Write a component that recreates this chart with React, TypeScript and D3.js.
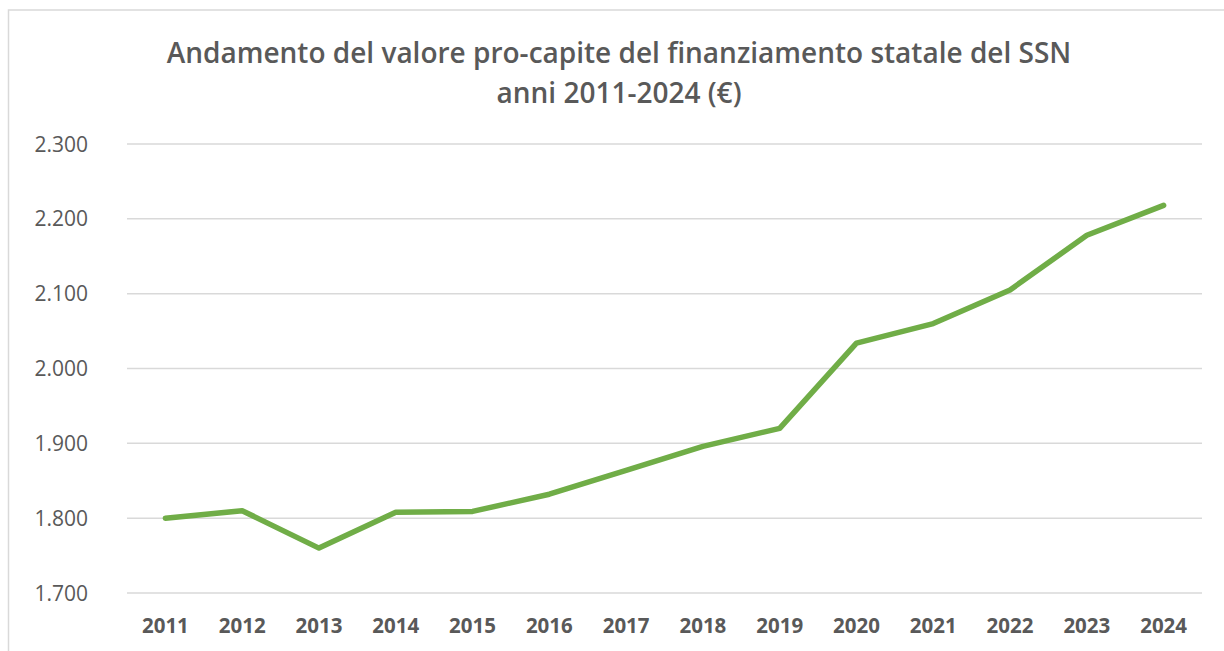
import React from "react";
import * as d3 from "d3";

const years = ["2011","2012","2013","2014","2015","2016","2017","2018","2019","2020","2021","2022","2023","2024"];
const values = [1800,1810,1760,1808,1809,1832,1864,1896,1920,2034,2060,2105,2178,2218];
const yTicks = [1700,1800,1900,2000,2100,2200,2300];
const titleLines = ["Andamento del valore pro-capite del finanziamento statale del SSN", "anni 2011-2024 (€)"];

const W = 1224, H = 651;
const plot = { left: 127, right: 1202, top: 144, bottom: 593 };

export default function App() {
  const x = d3.scaleBand<string>().domain(years).range([plot.left, plot.right]);
  const y = d3.scaleLinear().domain([1700, 2300]).range([plot.bottom, plot.top]);
  const line = d3.line<number>()
    .x((_, i) => (x(years[i]) as number) + x.bandwidth() / 2)
    .y(d => y(d));
  const fmt = (v: number) => d3.format(",")(v).replace(/,/g, ".");
  const font = "'Open Sans', 'Liberation Sans', sans-serif";
  return (
    <svg width={W} height={H} style={{ position: "absolute", left: 0, top: 0 }} fontFamily={font}>
      <rect x={0} y={0} width={W} height={H} fill="#fff" />
      <rect x={8.5} y={10} width={W + 20} height={H + 20} fill="#fff" stroke="#d9d9d9" strokeWidth={1.5} />
      {titleLines.map((t, i) => (
        <text key={i} x={619} y={63 + i * 40} textAnchor="middle" fontSize={28} fontWeight={600} fill="#595959">{t}</text>
      ))}
      {yTicks.map(t => (
        <g key={t}>
          <line x1={plot.left} x2={plot.right} y1={y(t)} y2={y(t)} stroke="#d9d9d9" strokeWidth={1.5} />
          <text x={88} y={y(t)} dy="0.36em" textAnchor="end" fontSize={21} fill="#595959">{fmt(t)}</text>
        </g>
      ))}
      {years.map(yr => (
        <text key={yr} x={(x(yr) as number) + x.bandwidth() / 2} y={633} textAnchor="middle" fontSize={20.5} fontWeight={700} fill="#595959">{yr}</text>
      ))}
      <path d={line(values) || ""} fill="none" stroke="#70ad47" strokeWidth={5.5} strokeLinejoin="round" strokeLinecap="round" />
    </svg>
  );
}
